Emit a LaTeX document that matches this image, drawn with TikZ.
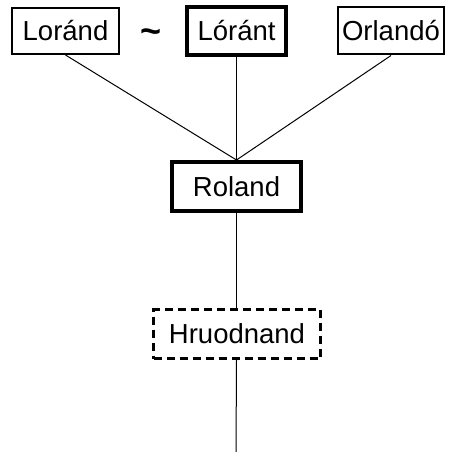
\documentclass[tikz,border=0pt]{standalone}
\usepackage{fontspec}
\setmainfont{Liberation Sans}
\begin{document}
\begin{tikzpicture}[x=1pt,y=1pt,
  namebox/.style={draw=black, line width=2pt, inner sep=0pt, font=\fontsize{27.5}{32}\selectfont},
  thickbox/.style={namebox, line width=4pt},
  guessbox/.style={namebox, line width=2.8pt, dash pattern=on 8pt off 5pt},
  link/.style={draw=black, line width=1pt}]
\useasboundingbox (0,0) rectangle (448,-452);
\node[namebox, minimum width=107pt, minimum height=46pt] (lorand) at (65.5,-31) {Loránd};
\node[thickbox, minimum width=99pt, minimum height=48pt] (lorant) at (236.5,-31) {Lóránt};
\node[namebox, minimum width=106pt, minimum height=47pt] (orlando) at (391,-31) {Orlandó};
\node[font=\bfseries\fontsize{36}{36}\selectfont, inner sep=0pt] (tilde) at (151,-36) {\char"007E};
\node[thickbox, minimum width=129pt, minimum height=49pt] (roland) at (236.5,-186.5) {Roland};
\node[guessbox, minimum width=167pt, minimum height=49pt] (hruod) at (237,-334) {Hruodnand};
\coordinate (bottom) at (236,-452);
\draw[link] (lorand.south) -- (roland.north);
\draw[link] (lorant.south) -- (roland.north);
\draw[link] (orlando.south) -- (roland.north);
\draw[link] (roland.south) -- (roland.south |- hruod.north);
\draw[link] (roland.south |- hruod.south) -- (bottom);
\end{tikzpicture}
\end{document}
